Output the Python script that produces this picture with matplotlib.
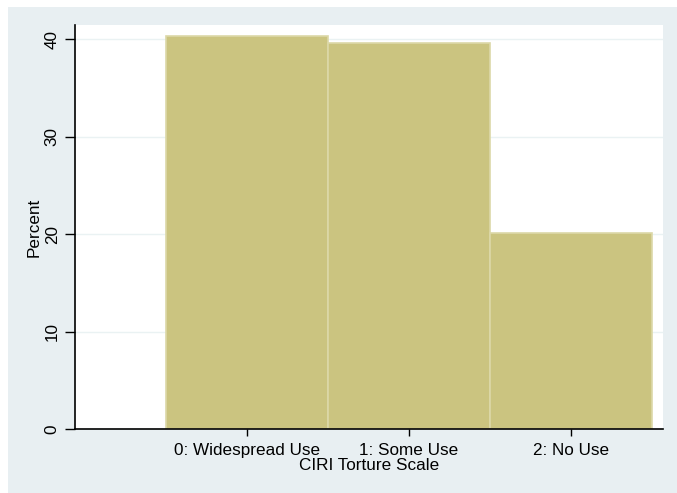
import matplotlib.pyplot as plt
from matplotlib.patches import Rectangle

plt.rcParams['font.family'] = ['Liberation Sans', 'DejaVu Sans']

# data
categories = ['0: Widespread Use', '1: Some Use', '2: No Use']
codes = [0, 1, 2]
percent = [40.3, 39.6, 20.1]
y_ticks = [0, 10, 20, 30, 40]

W, H = 677, 493
fig = plt.figure(figsize=(W / 100, H / 100), dpi=100, facecolor='white')

# outer graph region (Stata style)
fig.add_artist(Rectangle((8 / W, 0), 1 - 8 / W, 1 - 7 / H, transform=fig.transFigure,
                         facecolor='#e8eff2', edgecolor='none', zorder=-5))

ax = fig.add_axes([75 / W, (H - 429) / H, (663 - 75) / W, (429 - 25) / H])
ax.set_facecolor('white')

ax.bar(codes, percent, width=1.0, color='#cbc480', edgecolor='#dcd8a8', linewidth=1.2, zorder=2)

ax.set_xlim(-1.06, 2.57)
ax.set_ylim(0, 41.45)

fs = 12.3
ax.set_yticks(y_ticks)
ax.set_yticklabels([str(v) for v in y_ticks], rotation=90, va='center', fontsize=fs)
ax.yaxis.grid(True, color='#eaf2f3', linewidth=1.0, zorder=0)
ax.set_axisbelow(True)

ax.set_xticks(codes)
ax.set_xticklabels(categories, fontsize=fs)

ax.tick_params(axis='y', length=7, width=1, pad=4)
ax.tick_params(axis='x', length=5, width=1, pad=5)

for side in ['top', 'right']:
    ax.spines[side].set_visible(False)
for side in ['left', 'bottom']:
    ax.spines[side].set_color('black')
    ax.spines[side].set_linewidth(1.2)

ax.set_ylabel('Percent', fontsize=fs, labelpad=2)
ax.set_xlabel('CIRI Torture Scale', fontsize=fs, labelpad=0)

fig.savefig('out.png', dpi=100, facecolor=fig.get_facecolor())
